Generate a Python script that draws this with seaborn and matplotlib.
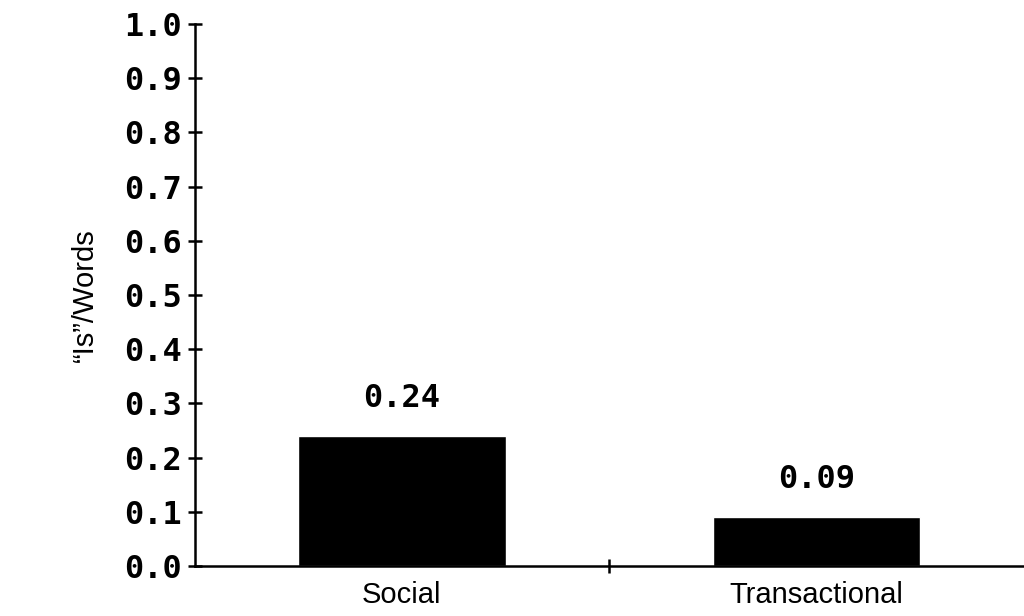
import matplotlib
matplotlib.use("Agg")
import matplotlib.pyplot as plt
import seaborn as sns
import pandas as pd

# data
categories = ["Social", "Transactional"]
values = [0.24, 0.09]
value_labels = ["0.24", "0.09"]
y_ticks = [0.0, 0.1, 0.2, 0.3, 0.4, 0.5, 0.6, 0.7, 0.8, 0.9, 1.0]

df = pd.DataFrame({"Context": categories, "Ratio": values})

sns.set_style("white")
plt.rcParams["font.family"] = ["Liberation Sans", "DejaVu Sans"]
plt.rcParams["text.color"] = "black"
plt.rcParams["axes.labelcolor"] = "black"
plt.rcParams["xtick.color"] = "black"
plt.rcParams["ytick.color"] = "black"

fig = plt.figure(figsize=(10.24, 6.16), dpi=100)
ax = fig.add_axes([0.19, 0.081, 0.81, 0.88])

sns.barplot(data=df, x="Context", y="Ratio", color="black", saturation=1,
            width=0.5, ax=ax)

ax.set_xlim(-0.5, 1.5)
ax.set_ylim(0, 1.0)

# value labels above bars
mono = dict(family="DejaVu Sans Mono", weight="bold", size=23)
for i, (v, lab) in enumerate(zip(values, value_labels)):
    ax.annotate(lab, (i, v), xytext=(0, 16), textcoords="offset points",
                ha="center", va="bottom", color="black", **mono)

# y axis
ax.set_yticks(y_ticks)
ax.set_yticklabels([f"{t:.1f}" for t in y_ticks], fontdict=mono)
ax.tick_params(axis="y", direction="inout", length=10, width=1.8, pad=4,
               left=True, color="black")

# x axis: labels at categories, single tick between them
ax.set_xticks([0, 1])
ax.set_xticklabels(categories, fontsize=21)
ax.set_xticks([0.5], minor=True)
ax.tick_params(axis="x", which="major", length=0, pad=11)
ax.tick_params(axis="x", which="minor", direction="inout", length=10,
               width=1.8, bottom=True, color="black")

ax.set_xlabel("")
ax.set_ylabel("\u201cIs\u201d/Words", fontsize=21, labelpad=18)

sns.despine(ax=ax)
for side in ["left", "bottom"]:
    ax.spines[side].set_linewidth(1.8)
    ax.spines[side].set_color("black")

fig.savefig("out.png", dpi=100)
